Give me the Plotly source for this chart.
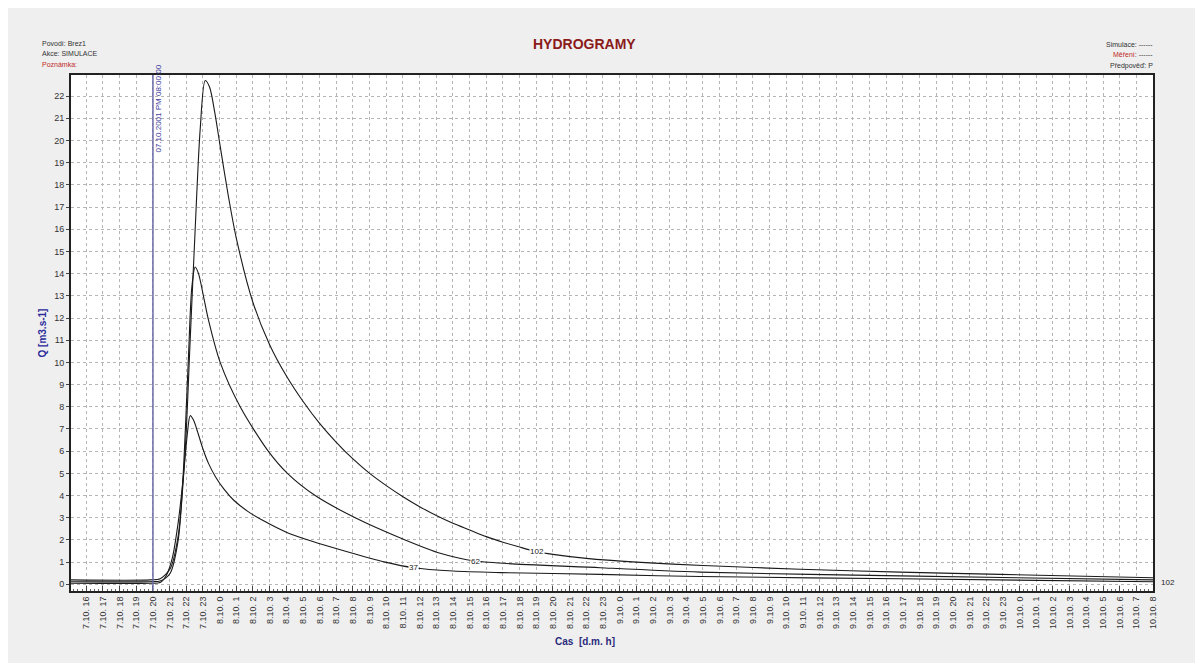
import plotly.graph_objects as go

# ---- data ----
t102 = ["2001-10-07 15:00", "2001-10-07 19:50", "2001-10-07 20:26", "2001-10-07 21:02", "2001-10-07 21:31",
        "2001-10-07 21:56", "2001-10-07 22:14", "2001-10-07 22:32", "2001-10-07 22:50", "2001-10-07 23:08",
        "2001-10-07 23:24", "2001-10-07 23:42", "2001-10-08 00:00", "2001-10-08 00:30", "2001-10-08 01:00",
        "2001-10-08 02:00", "2001-10-08 03:00", "2001-10-08 04:00", "2001-10-08 05:00", "2001-10-08 06:00",
        "2001-10-08 07:00", "2001-10-08 08:00", "2001-10-08 09:00", "2001-10-08 10:00", "2001-10-08 11:00",
        "2001-10-08 12:00", "2001-10-08 13:00", "2001-10-08 14:00", "2001-10-08 15:00", "2001-10-08 16:00",
        "2001-10-08 17:00", "2001-10-08 18:00", "2001-10-08 19:00", "2001-10-08 20:00", "2001-10-08 22:00",
        "2001-10-09 01:00", "2001-10-09 05:00", "2001-10-09 10:50", "2001-10-09 16:50", "2001-10-09 22:50",
        "2001-10-10 08:00"]
q102 = [0.2, 0.2, 0.25, 0.7, 2.2,
        6.0, 11.0, 16.0, 20.5, 22.7,
        22.4, 21.3, 19.9, 17.6, 15.6,
        12.7, 10.8, 9.4, 8.25, 7.25,
        6.4, 5.65, 5.0, 4.45, 3.95,
        3.5, 3.1, 2.75, 2.45, 2.15,
        1.9, 1.68, 1.48, 1.35, 1.17,
        1.0, 0.85, 0.68, 0.55, 0.45,
        0.3]

t62 = ["2001-10-07 15:00", "2001-10-07 19:50", "2001-10-07 20:26", "2001-10-07 21:02", "2001-10-07 21:31",
       "2001-10-07 21:49", "2001-10-07 22:07", "2001-10-07 22:20", "2001-10-07 22:32", "2001-10-07 22:44",
       "2001-10-07 23:00", "2001-10-07 23:20", "2001-10-08 00:02", "2001-10-08 01:14", "2001-10-08 02:55",
       "2001-10-08 04:04", "2001-10-08 05:44", "2001-10-08 08:08", "2001-10-08 11:08", "2001-10-08 13:14",
       "2001-10-08 15:20", "2001-10-08 22:50", "2001-10-09 04:50", "2001-10-09 16:50", "2001-10-10 08:00"]
q62 = [0.12, 0.12, 0.15, 0.5, 2.0,
       5.0, 10.0, 13.4, 14.3, 14.0,
       13.1, 11.9, 10.0, 8.0, 6.0,
       5.0, 4.0, 3.0, 2.0, 1.4,
       1.05, 0.75, 0.55, 0.38, 0.2]

t37 = ["2001-10-07 15:00", "2001-10-07 19:50", "2001-10-07 20:26", "2001-10-07 20:48", "2001-10-07 21:10",
       "2001-10-07 21:31", "2001-10-07 21:49", "2001-10-07 22:04", "2001-10-07 22:14", "2001-10-07 22:26",
       "2001-10-07 22:40", "2001-10-07 23:00", "2001-10-07 23:20", "2001-10-07 23:45", "2001-10-08 00:15",
       "2001-10-08 00:50", "2001-10-08 01:40", "2001-10-08 02:40", "2001-10-08 04:00", "2001-10-08 05:30",
       "2001-10-08 07:30", "2001-10-08 09:56", "2001-10-08 11:37", "2001-10-08 14:00", "2001-10-08 16:50",
       "2001-10-08 22:50", "2001-10-09 04:50", "2001-10-09 16:50", "2001-10-10 08:00"]
q37 = [0.05, 0.05, 0.08, 0.4, 1.2,
       2.8, 4.8, 6.8, 7.6, 7.4,
       6.9, 6.1, 5.45, 4.85, 4.3,
       3.8, 3.3, 2.85, 2.35, 1.95,
       1.5, 1.0, 0.75, 0.6, 0.53,
       0.45, 0.35, 0.25, 0.12]

series_names = ["37", "62", "102"]
label_times = ["2001-10-08 11:37", "2001-10-08 15:20", "2001-10-08 19:04"]
label_values = [0.75, 1.05, 1.47]

event_time = "2001-10-07 20:00"
event_text = "07.10.2001 PM 08:00:00"
x_start = "2001-10-07 15:05"
x_end = "2001-10-10 08:00"

FONT = "Liberation Sans, Arial, sans-serif"
GRID = "#b5b5b5"

fig = go.Figure()
for t, q, n in [(t37, q37, "37"), (t62, q62, "62"), (t102, q102, "102")]:
    fig.add_trace(go.Scatter(x=t, y=q, mode="lines", name=n,
                             line=dict(color="#1a1a1a", width=1.1, shape="spline", smoothing=0.8),
                             showlegend=False, hoverinfo="x+y+name"))

# vertical event line
fig.add_shape(type="line", x0=event_time, x1=event_time, y0=0, y1=1, xref="x", yref="paper",
              line=dict(color="#6a6aa8", width=1.5))
fig.add_annotation(x=event_time, y=1.025, xref="x", yref="paper", text=event_text, textangle=-90,
                   showarrow=False, xanchor="left", yanchor="top", xshift=-1,
                   font=dict(family=FONT, size=8, color="#3a3a9a"))

# curve labels
for tx, vy, n in zip(label_times, label_values, series_names):
    fig.add_annotation(x=tx, y=vy, xref="x", yref="y", text=n, showarrow=False,
                       bgcolor="white", borderpad=0, font=dict(family=FONT, size=8, color="#222"))
fig.add_annotation(x=1.0, y=q102[-1] - 0.2, xref="paper", yref="y", text="102", showarrow=False,
                   xanchor="left", yanchor="middle", xshift=6, font=dict(family=FONT, size=8, color="#222"))

# header texts
fig.add_annotation(x=0.475, y=1.060, xref="paper", yref="paper", text="<b>HYDROGRAMY</b>", showarrow=False,
                   yanchor="middle", font=dict(family=FONT, size=14, color="#8b1a1a"))
left_lines = [("Povodí: Brez1", "#333", 1.062), ("Akce: SIMULACE", "#333", 1.042), ("Poznámka:", "#c02828", 1.021)]
for txt, col, yy in left_lines:
    fig.add_annotation(x=-0.0287, y=yy, xref="paper", yref="paper", text=txt, showarrow=False,
                       xanchor="left", yanchor="middle", font=dict(family=FONT, size=7, color=col))
right_lines = [("Simulace: ------", 1.060), ("<span style='color:#c02828'>Měření</span>: ------", 1.039),
               ("Předpověď: P", 1.017)]
for txt, yy in right_lines:
    fig.add_annotation(x=1.002, y=yy, xref="paper", yref="paper", text=txt, showarrow=False,
                       xanchor="right", yanchor="middle", font=dict(family=FONT, size=7, color="#333"))

# x axis title
fig.add_annotation(x=0.475, y=-0.097, xref="paper", yref="paper", text="<b>Cas  [d.m. h]</b>", showarrow=False,
                   yanchor="middle", font=dict(family=FONT, size=10, color="#2b2b7c"))

fig.update_xaxes(type="date", range=[x_start, x_end], tickformat="%-d.%-m. %-H", dtick=3600000,
                 tick0="2001-10-07 00:00", tickangle=-90, tickfont=dict(family=FONT, size=9, color="#333"),
                 showgrid=True, gridcolor=GRID, griddash="3px,3px", gridwidth=1,
                 showline=True, linecolor="#222", linewidth=2, mirror=True,
                 ticks="inside", ticklen=5, tickcolor="#444",
                 minor=dict(dtick=900000, ticks="inside", ticklen=2, tickcolor="#666", showgrid=False),
                 zeroline=False)
fig.update_yaxes(range=[-0.3, 22.95], dtick=1, tick0=0, tickfont=dict(family=FONT, size=9, color="#333"),
                 showgrid=True, gridcolor=GRID, griddash="3px,3px", gridwidth=1,
                 showline=True, linecolor="#222", linewidth=2, mirror=True,
                 ticks="outside", ticklen=3, tickcolor="#444", zeroline=False,
                 title=dict(text="<b>Q [m3.s-1]</b>", font=dict(family=FONT, size=10, color="#2b2b9c"),
                            standoff=6))

fig.update_layout(width=1187, height=655, paper_bgcolor="#efefef", plot_bgcolor="white",
                  margin=dict(l=63, r=42, t=67, b=72), font=dict(family=FONT))

fig.write_html("out.html")
